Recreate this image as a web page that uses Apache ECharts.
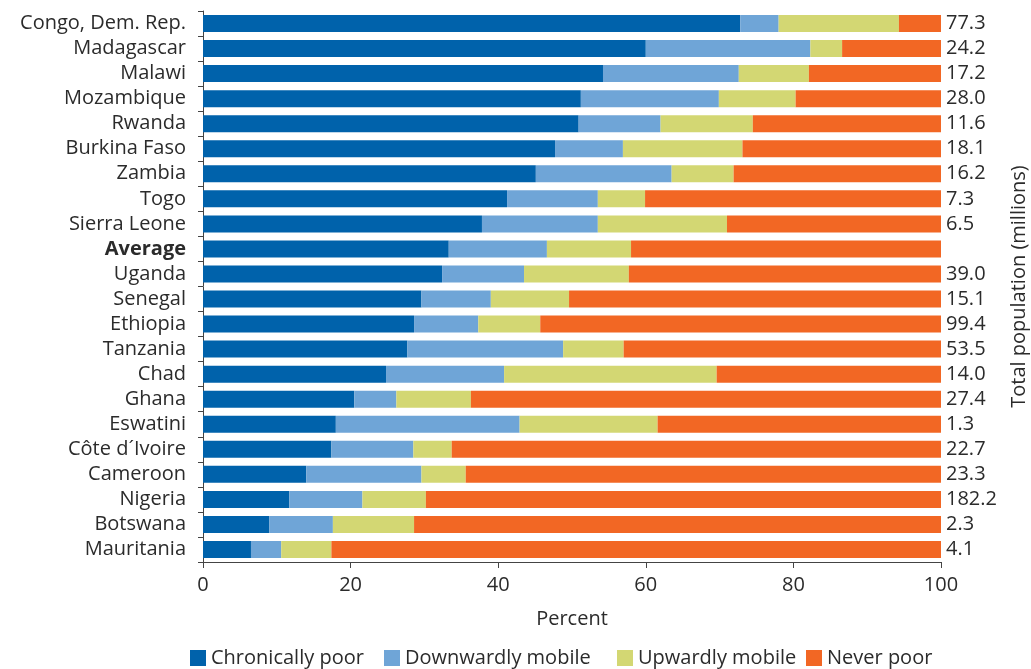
<!DOCTYPE html>
<html>
<head>
<meta charset="utf-8">
<script src="https://cdn.jsdelivr.net/npm/echarts@6/dist/echarts.min.js"></script>
<style>html,body{margin:0;padding:0;background:#fff;overflow:hidden;}#c{width:1031px;height:669px;}</style>
</head>
<body>
<div id="c"></div>
<script>
const categories = ["Congo, Dem. Rep.","Madagascar","Malawi","Mozambique","Rwanda","Burkina Faso","Zambia","Togo","Sierra Leone","Average","Uganda","Senegal","Ethiopia","Tanzania","Chad","Ghana","Eswatini","Côte d´Ivoire","Cameroon","Nigeria","Botswana","Mauritania"];
const population = ["77.3","24.2","17.2","28.0","11.6","18.1","16.2","7.3","6.5","","39.0","15.1","99.4","53.5","14.0","27.4","1.3","22.7","23.3","182.2","2.3","4.1"];
const chronicallyPoor = [72.8,60.0,54.2,51.2,50.9,47.7,45.1,41.2,37.8,33.3,32.4,29.6,28.6,27.7,24.8,20.5,18.0,17.4,14.0,11.7,9.0,6.5];
const downwardlyMobile = [5.2,22.3,18.4,18.7,11.1,9.2,18.4,12.3,15.7,13.3,11.1,9.4,8.7,21.1,16.0,5.7,24.9,11.1,15.6,9.9,8.6,4.1];
const upwardlyMobile = [16.3,4.3,9.5,10.4,12.5,16.2,8.4,6.4,17.5,11.4,14.2,10.6,8.4,8.2,28.8,10.1,18.7,5.2,6.0,8.6,11.0,6.8];
const neverPoor = [5.7,13.4,17.9,19.7,25.5,26.9,28.1,40.1,29.0,42.0,42.3,50.4,54.3,43.0,30.4,63.7,38.4,66.3,64.4,69.8,71.4,82.6];
const seriesNames = ['Chronically poor','Downwardly mobile','Upwardly mobile','Never poor'];
const xTicks = {min:0, max:100, interval:20};

const FONT = "Open Sans";
const FS = 20;
const TXT = "#2b2b2b";
const legendLeft = [190, 384, 617, 806];
const chart = echarts.init(document.getElementById('c'), null, {renderer:'canvas'});
function s(name, data, color){
  return {name, type:'bar', stack:'t', data, barWidth:17, itemStyle:{color}, yAxisIndex:0};
}
chart.setOption({
  animation:false,
  textStyle:{fontFamily:FONT, color:TXT},
  grid:{left:203, right:90, top:11, bottom:107, containLabel:false, outerBoundsMode:'none'},
  xAxis:{type:'value', min:xTicks.min, max:xTicks.max, interval:xTicks.interval,
    splitLine:{show:false},
    axisLine:{show:true, lineStyle:{color:'#444', width:1}},
    axisTick:{show:true, length:6, lineStyle:{color:'#444'}},
    axisLabel:{fontSize:FS, color:TXT, fontFamily:FONT, margin:13},
    name:'Percent', nameLocation:'middle', nameGap:47,
    nameTextStyle:{fontSize:FS, color:TXT, fontFamily:FONT}},
  yAxis:[{type:'category', data:categories, inverse:true,
    axisLine:{show:true, lineStyle:{color:'#444'}},
    axisTick:{show:true, length:5, interval:0, lineStyle:{color:'#444'}},
    axisLabel:{fontSize:FS, color:TXT, fontFamily:FONT, margin:17, interval:0, hideOverlap:false,
      formatter:v=> v==='Average' ? '{b|'+v+'}' : v,
      rich:{b:{fontWeight:'bold', fontSize:FS, color:TXT, fontFamily:FONT}}}},
   {type:'category', data:population, inverse:true, position:'right',
    axisLine:{show:false}, axisTick:{show:false},
    axisLabel:{fontSize:FS, color:TXT, fontFamily:FONT, margin:5, interval:0, hideOverlap:false},
    name:'Total population (millions)', nameLocation:'middle', nameGap:68, nameRotate:90,
    nameTextStyle:{fontSize:FS, color:TXT, fontFamily:FONT}}],
  legend: seriesNames.map((n,i)=>({top:648, left:legendLeft[i], itemWidth:16, itemHeight:16, icon:'rect', padding:0,
    textStyle:{fontSize:FS, color:TXT, fontFamily:FONT}, data:[n]})),
  series:[
    s(seriesNames[0], chronicallyPoor, '#0062AB'),
    s(seriesNames[1], downwardlyMobile, '#6FA5D7'),
    s(seriesNames[2], upwardlyMobile, '#D3D773'),
    s(seriesNames[3], neverPoor, '#F26724')
  ]
});
</script>
</body>
</html>
